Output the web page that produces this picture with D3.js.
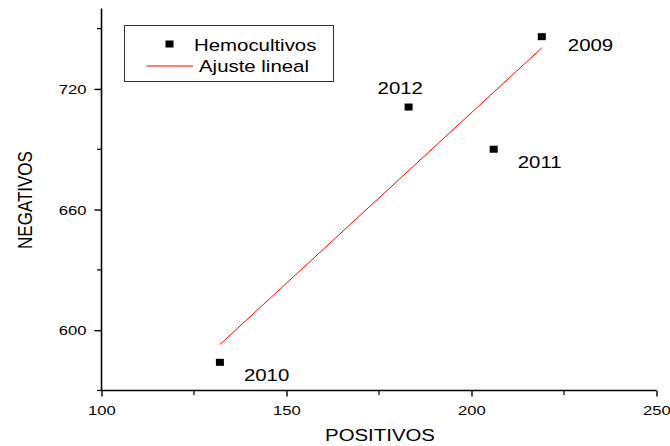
<!DOCTYPE html>
<html>
<head>
<meta charset="utf-8">
<script src="https://cdn.jsdelivr.net/npm/d3@7"></script>
<style>
  html, body { margin: 0; padding: 0; background: #fff; }
  svg { display: block; font-family: "Liberation Sans", Arial, sans-serif; }
</style>
</head>
<body>
<svg id="chart" width="670" height="446"></svg>
<script>
// ---- data ----
const years     = ["2009", "2010", "2011", "2012"];
const positivos = [219, 132, 206, 183];
const negativos = [746, 584, 690, 711];
const xTicks = [100, 150, 200, 250];
const yTicks = [600, 660, 720];
const xMinorTicks = [125, 175, 225];
const yMinorTicks = [570, 630, 690, 750];
const xTitle = "POSITIVOS";
const yTitle = "NEGATIVOS";
const legendLabels = ["Hemocultivos", "Ajuste lineal"];

// ---- layout (not data) ----
const labelOffsets = { "2009": [26, 14], "2010": [24, 19], "2011": [24, 19], "2012": [-31, -13] };
const SX = 1.2; // horizontal text stretch seen in reference

const svg = d3.select("#chart");
const x = d3.scaleLinear().domain([100, 250]).range([101.5, 656.5]);
const y = d3.scaleLinear().domain([570, 760]).range([390.5, 8.5]);

// linear least-squares fit
const n = positivos.length;
const mx = d3.mean(positivos), my = d3.mean(negativos);
let sxy = 0, sxx = 0;
for (let i = 0; i < n; i++) { sxy += (positivos[i]-mx)*(negativos[i]-my); sxx += (positivos[i]-mx)**2; }
const slope = sxy / sxx, intercept = my - slope * mx;
const [xmin, xmax] = d3.extent(positivos);

// axes
const yAxis = svg.append("g").attr("transform", `translate(${x(100)},0)`)
  .call(d3.axisLeft(y).tickValues(yTicks).tickSize(7).tickFormat(d3.format("d")));
yAxis.select(".domain").attr("d", `M0,${y(570)}V${y(760)}`);
const xAxis = svg.append("g").attr("transform", `translate(0,${y(570)})`)
  .call(d3.axisBottom(x).tickValues(xTicks).tickSize(6).tickFormat(d3.format("d")));
xAxis.select(".domain").attr("d", `M${x(100)},0H${x(250)}`);
[yAxis, xAxis].forEach(g => {
  g.selectAll(".domain").attr("stroke", "#000").attr("stroke-width", 1.6);
  g.selectAll(".tick line").attr("stroke", "#000").attr("stroke-width", 1.4);
  g.selectAll("text").attr("font-size", 13).attr("font-family", "Liberation Sans, Arial, sans-serif").attr("fill", "#000");
});
yAxis.selectAll(".tick text").attr("x", -15 / 1.28).attr("dy", "0.35em").attr("transform", "scale(1.28,1)");
xAxis.selectAll(".tick text").attr("y", 25).attr("dy", 0).attr("transform", "scale(1.28,1)");

// minor ticks
svg.append("g").selectAll("line").data(xMinorTicks).join("line")
  .attr("x1", d => x(d)).attr("x2", d => x(d))
  .attr("y1", y(570)).attr("y2", y(570) + 4.5)
  .attr("stroke", "#000").attr("stroke-width", 1.2);
svg.append("g").selectAll("line").data(yMinorTicks).join("line")
  .attr("x1", x(100)).attr("x2", x(100) - 4.5)
  .attr("y1", d => y(d)).attr("y2", d => y(d))
  .attr("stroke", "#000").attr("stroke-width", 1.2);

// axis titles
svg.append("text").text(xTitle)
  .attr("transform", `translate(380,441) scale(${SX},1)`)
  .attr("text-anchor", "middle").attr("font-size", 17).attr("fill", "#000");
svg.append("text").text(yTitle)
  .attr("transform", `translate(31.5,200) scale(1.24,1) rotate(-90)`)
  .attr("text-anchor", "middle").attr("font-size", 17).attr("fill", "#000");

// fit line
svg.append("line")
  .attr("x1", x(xmin)).attr("y1", y(intercept + slope * xmin))
  .attr("x2", x(xmax)).attr("y2", y(intercept + slope * xmax))
  .attr("stroke", "#ff0000").attr("stroke-width", 1);

// points
const pts = years.map((yr, i) => ({ yr, px: positivos[i], ng: negativos[i] }));
svg.append("g").selectAll("rect").data(pts).join("rect")
  .attr("x", d => x(d.px) - 4).attr("y", d => y(d.ng) - 3.5)
  .attr("width", 8).attr("height", 7).attr("fill", "#000");

// year labels
svg.append("g").selectAll("text").data(pts).join("text")
  .text(d => d.yr)
  .attr("transform", d => `translate(${x(d.px) + labelOffsets[d.yr][0]},${y(d.ng) + labelOffsets[d.yr][1]}) scale(${SX},1)`)
  .attr("font-size", 17).attr("fill", "#000");

// legend
const lg = svg.append("g");
lg.append("rect").attr("x", 124.5).attr("y", 25.5).attr("width", 209).attr("height", 56)
  .attr("fill", "#fff").attr("stroke", "#333").attr("stroke-width", 1);
lg.append("rect").attr("x", 165.5).attr("y", 40.5).attr("width", 8).attr("height", 7).attr("fill", "#000");
lg.append("text").text(legendLabels[0])
  .attr("transform", `translate(194,50.5) scale(${SX},1)`).attr("font-size", 17).attr("fill", "#000");
lg.append("line").attr("x1", 146.5).attr("x2", 193).attr("y1", 66).attr("y2", 66)
  .attr("stroke", "#ff0000").attr("stroke-width", 1);
lg.append("text").text(legendLabels[1])
  .attr("transform", `translate(199,71.5) scale(${SX},1)`).attr("font-size", 17).attr("fill", "#000");
</script>
</body>
</html>
